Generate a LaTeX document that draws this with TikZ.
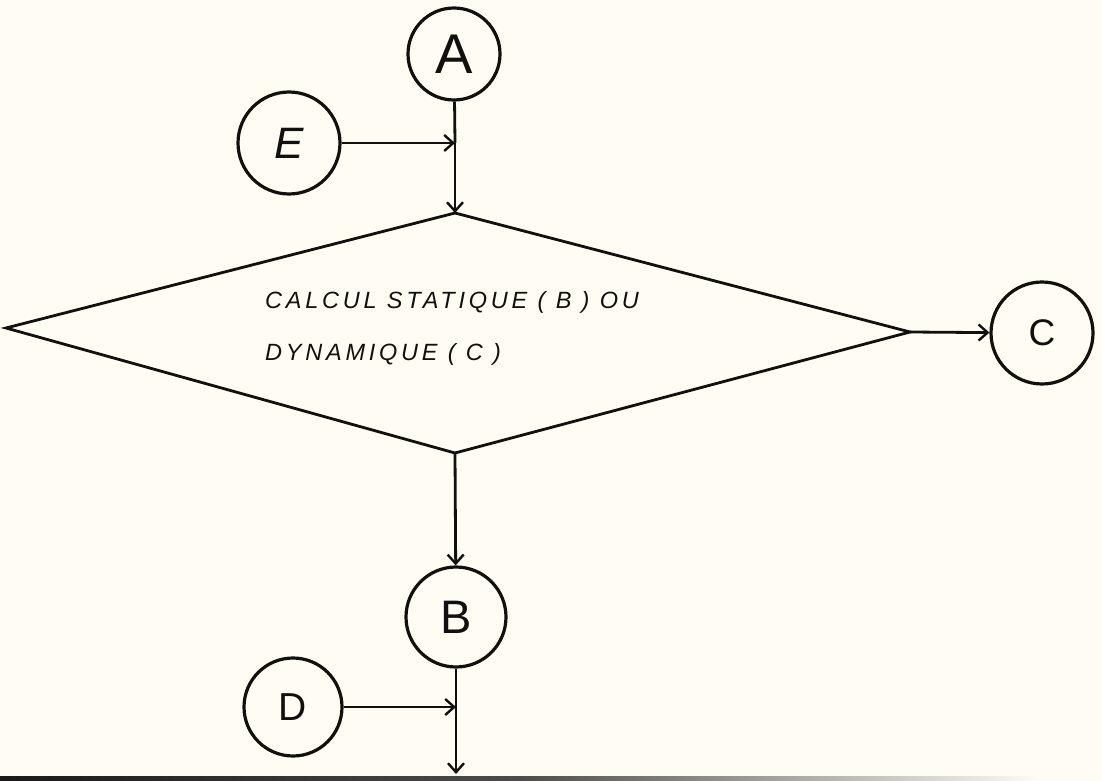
\documentclass[tikz,border=0pt]{standalone}
\usepackage{fontspec}
\setmainfont{Liberation Sans}
\usetikzlibrary{arrows.meta}
\definecolor{paper}{RGB}{254,252,243}
\definecolor{ink}{RGB}{18,16,14}
\begin{document}
\begin{tikzpicture}[x=1pt,y=-1pt,
  circ/.style={draw=ink, text=ink, circle, line width=3.2pt, inner sep=0pt, minimum size=#1},
  link/.style={draw=ink, line width=2.8pt},
  conn/.style={link, -{Straight Barb[length=9pt,width=16pt,line width=2.4pt]}},
  lbl/.style={text=ink, inner sep=0pt, font=\itshape\fontsize{23.5}{52}\selectfont\addfontfeatures{LetterSpace=16}, align=left}]
\fill[paper] (0,0) rectangle (1102,781);
\useasboundingbox (0,0) rectangle (1102,781);
\shade[left color=black!90, right color=paper, middle color=black!70] (0,776) rectangle (1040,781);

% decision diamond
\coordinate (top) at (455,213);
\coordinate (lft) at (6,328);
\coordinate (rgt) at (910,332);
\coordinate (bot) at (455,453);
\draw[link, line join=miter] (top) -- (rgt) -- (bot) -- (lft) -- cycle;
\node[lbl, anchor=west] (txt) at (265,328) {CALCUL STATIQUE ( B ) OU\\DYNAMIQUE ( C )};

% connector circles
\node[circ=92pt, font=\fontsize{56}{56}\selectfont] (A) at (454,54) {A};
\node[circ=102pt, font=\fontsize{44}{44}\selectfont] (E) at (289,143) {\itshape E};
\node[circ=102pt, font=\fontsize{37}{37}\selectfont] (C) at (1042,333) {C};
\node[circ=100pt, font=\fontsize{47}{47}\selectfont] (B) at (456,617) {B};
\node[circ=98pt, font=\fontsize{39}{39}\selectfont] (D) at (293,707) {D};

\coordinate (j1) at (455,143);
\coordinate (j2) at (456,707);
\coordinate (end) at (456,774);

\draw[link] (A) -- (j1);
\draw[conn] (j1) -- (top);
\draw[conn] (E) -- (j1);
\draw[conn] (rgt) -- (C);
\draw[conn] (bot) -- (B);
\draw[link] (B) -- (j2);
\draw[conn] (j2) -- (end);
\draw[conn] (D) -- (j2);
\end{tikzpicture}
\end{document}
